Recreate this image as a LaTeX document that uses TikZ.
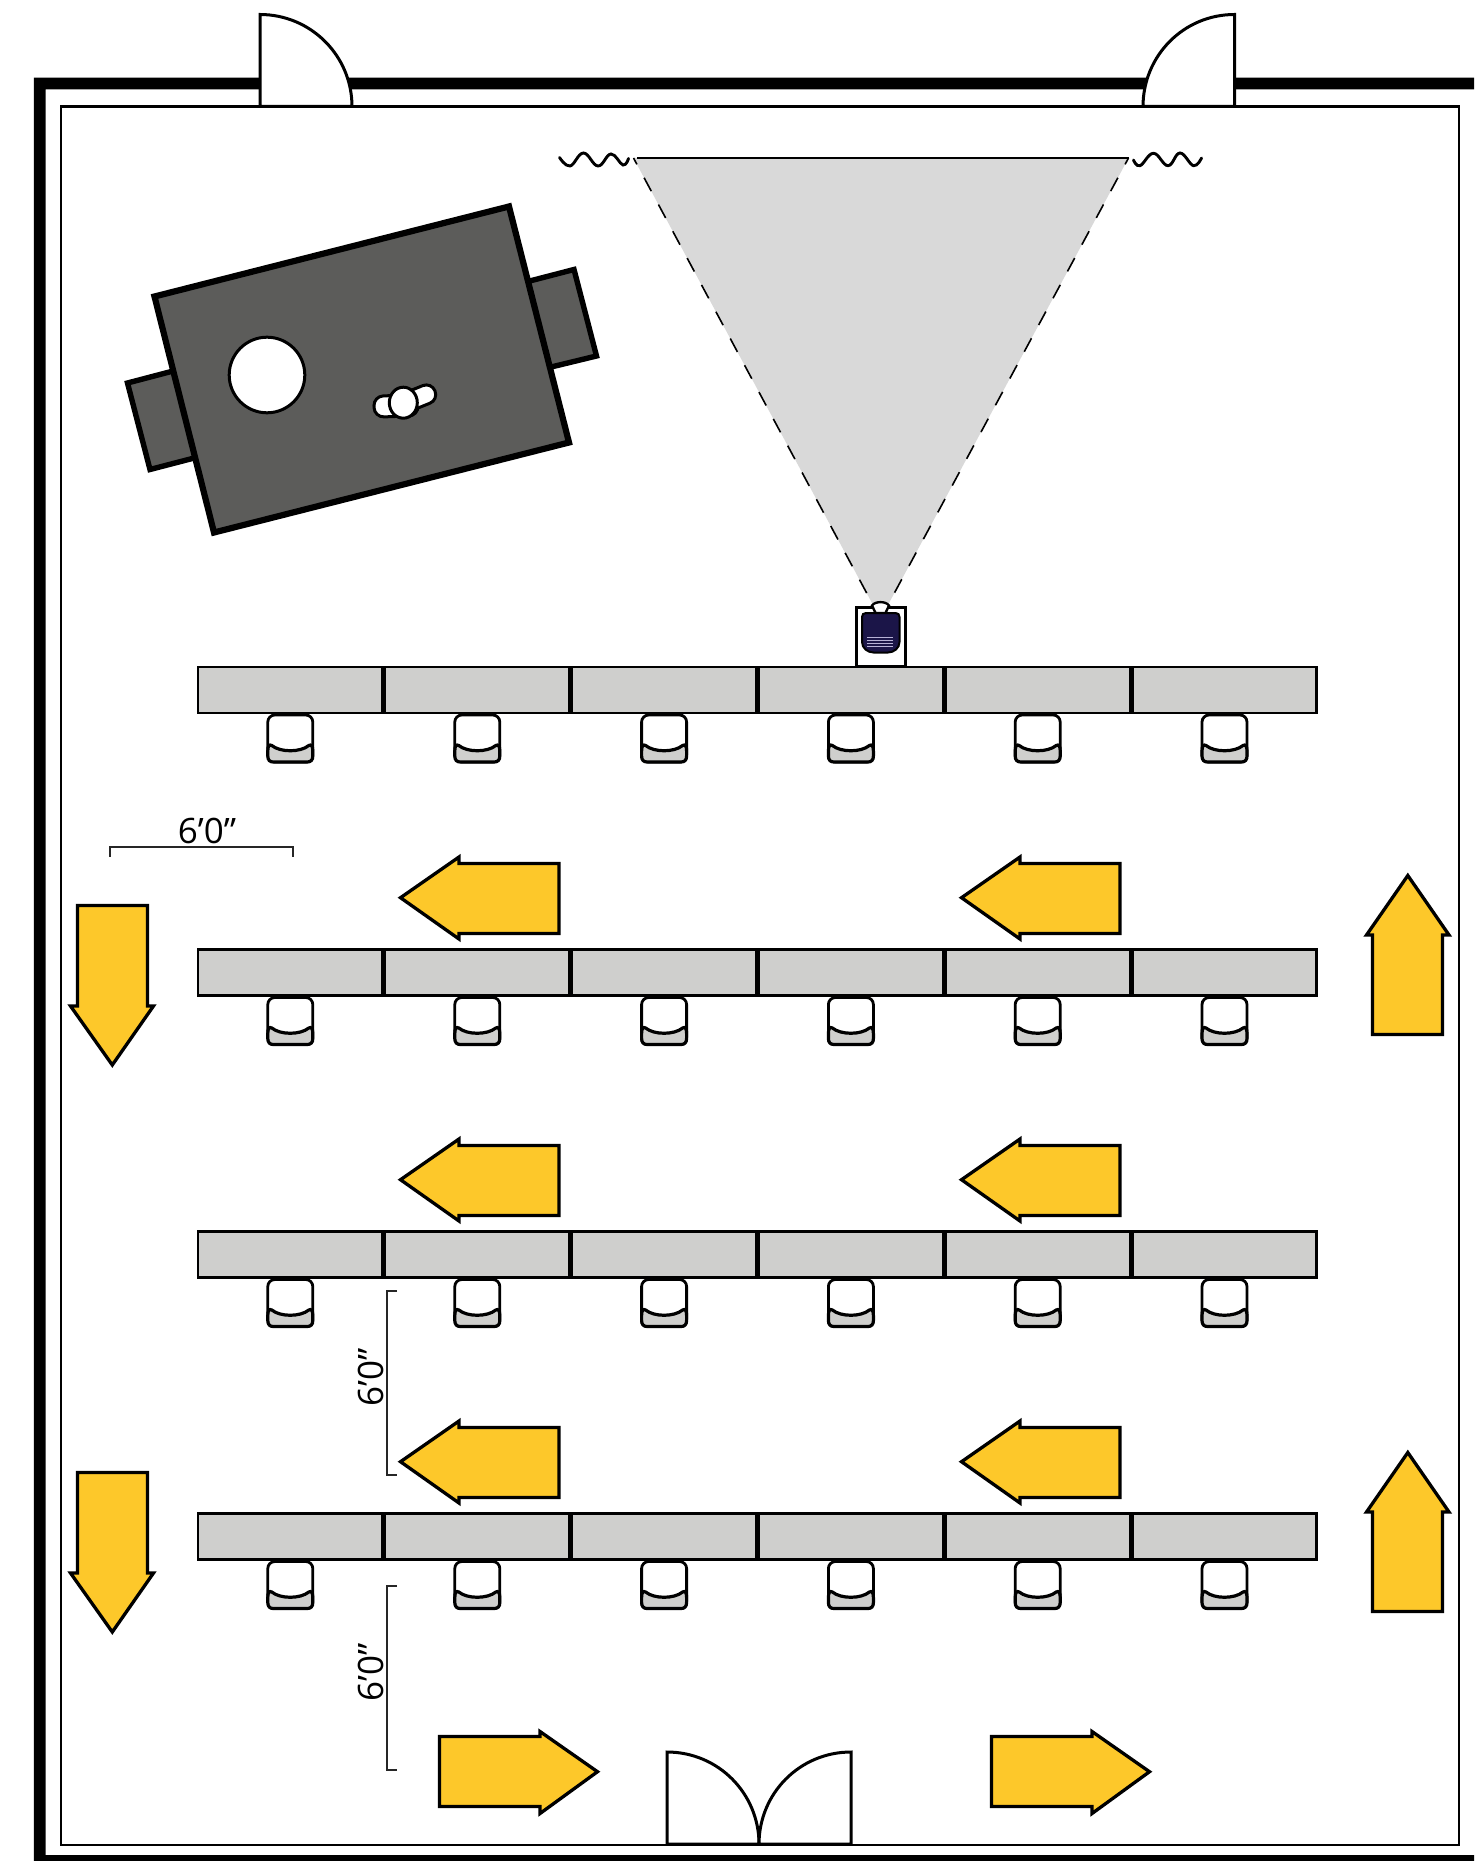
\documentclass[tikz,border=0pt]{standalone}
\usepackage{fontspec}
\setmainfont{Open Sans}
\definecolor{arrowyellow}{HTML}{FDC82A}
\definecolor{tablegray}{HTML}{CFCFCD}
\definecolor{screengray}{HTML}{D9D9D9}
\definecolor{podiumgray}{HTML}{5C5C5A}
\definecolor{projnavy}{HTML}{1B1548}
\definecolor{projline}{HTML}{B7B2D6}
\tikzset{
  wallband/.style={fill=black,draw=none},
  roomline/.style={draw=black,line width=1.25pt},
  doorleaf/.style={draw=black,fill=white,line width=1.5pt},
  tablebox/.style={draw=black,fill=tablegray,line width=1.4pt},
  chairback/.style={draw=black,fill=white,line width=1.4pt,rounded corners=3.5pt},
  chairseat/.style={draw=black,fill=tablegray,line width=1.6pt},
  flowarrow/.style={draw=black,fill=arrowyellow,line width=1.65pt,miter limit=10},
  podium/.style={draw=black,fill=podiumgray,line width=3.1pt},
  podiumwing/.style={draw=black,fill=podiumgray,line width=2.7pt},
  whitepart/.style={draw=black,fill=white,line width=1.5pt},
  dimline/.style={draw=black!85,line width=.65pt},
  dimlabel/.style={font=\fontsize{17.5}{20}\selectfont,inner sep=0pt,text=black},
  squiggle/.style={draw=black,line width=1.45pt,line cap=round},
  screenedge/.style={draw=black,line width=.8pt,dash pattern=on 7.6pt off 7.6pt,dash phase=4pt},
}
\begin{document}
\begin{tikzpicture}[x=0.5pt,y=-0.5pt]
\useasboundingbox (0,0) rectangle (1474,1861);
\fill[white] (0,0) rectangle (1474,1861);
% walls
\fill[wallband] (33.8,77.7) -- (1474,77.7) -- (1474,89.3) -- (45.5,89.3) -- (45.5,1855) -- (1474,1855) -- (1474,1861) -- (33.8,1861) -- cycle;
\draw[roomline] (61,106.5) rectangle (1459,1845);
% doors
\draw[doorleaf] (260,106.5) -- (260,14.5) .. controls (310.8,14.5) and (352,55.7) .. (352,106.5) -- cycle;
\draw[doorleaf] (1234.5,106.5) -- (1234.5,14.5) .. controls (1183.7,14.5) and (1143,55.7) .. (1143,106.5) -- cycle;
\draw[doorleaf] (667,1844) -- (667,1752) .. controls (718.4,1752) and (759,1793.6) .. (759,1844) -- cycle;
\draw[doorleaf] (851,1844) -- (851,1752) .. controls (799.6,1752) and (759,1793.6) .. (759,1844) -- cycle;
% screen beam
\fill[screengray] (633.5,158) -- (1128.5,158) -- (889,603) -- (872,603) -- cycle;
\draw[draw=black,line width=1.3pt] (637,158) -- (1128.5,158);
\draw[screenedge] (633.5,158) -- (872,603);
\draw[screenedge] (1128.5,158) -- (889,603);
\draw[squiggle] plot[smooth,tension=.7] coordinates {(559.5,157.5) (570,166) (583.5,153) (598,166) (611,154) (623,165) (628.5,158.5)};
\draw[squiggle] plot[smooth,tension=.7] coordinates {(1133.5,160) (1140,165.7) (1153.5,153.3) (1168,165.7) (1180,153) (1193.5,165.7) (1201.5,158)};
% podium
\draw[podiumwing] (127.5,383) -- (150,469.5) -- (200,456.5) -- (177,370) -- cycle;
\draw[podiumwing] (574,269.5) -- (596.5,356) -- (545,368.5) -- (522,283) -- cycle;
\draw[podium] (154.5,296.5) -- (509,206.5) -- (569,442.5) -- (214,532.5) -- cycle;
\draw[whitepart] (267,375) circle (37.8);
\draw[whitepart,rounded corners=4.8pt,rotate around={2:(395,406)}] (374,395.5) rectangle (418,416.5);
\draw[whitepart,rounded corners=4.6pt,rotate around={22:(415,399)}] (393,389.5) rectangle (436.5,408.5);
\draw[whitepart] (403.3,402.7) ellipse (14 and 15.5);
% projector
\draw[draw=black,fill=white,line width=1.5pt] (856,607.5) rectangle (905.5,666);
\draw[whitepart,line width=1.2pt] (875.5,613) -- (872,605.5) .. controls (875,601) and (886,601) .. (889,605.5) -- (885.5,613) -- cycle;
\draw[draw=black,fill=projnavy,line width=1pt] (866,613) -- (895.5,613) .. controls (898,613) and (899.5,614.5) .. (899.5,617) -- (899.5,642) .. controls (899.5,648) and (894,652.5) .. (888,652.5) -- (873.5,652.5) .. controls (867.5,652.5) and (862,648) .. (862,642) -- (862,617) .. controls (862,614.5) and (863.5,613) .. (866,613) -- cycle;
\foreach \yy in {637,640,643,646.5} \draw[draw=projline,line width=.5pt] (867,\yy) -- (893,\yy);
% tables and chairs
\foreach \rowy in {667,949.5,1231.5,1513.5}{
  \foreach \colx in {198,385,571.8,758.6,945.4,1132.2}{
    \draw[tablebox] (\colx,\rowy) rectangle +(184.6,46);
    \begin{scope}[shift={(\colx+92.3,\rowy+48)}]
      \draw[chairback] (-22.5,0) rectangle (22.5,47);
      \draw[chairseat] (-22.5,36) .. controls (-22.5,31) and (-21,29) .. (-18.5,30.5) .. controls (-10,37.5) and (10,37.5) .. (18.5,30.5) .. controls (21,29) and (22.5,31) .. (22.5,36) -- (22.5,41) .. controls (22.5,45) and (20.5,47) .. (17,47) -- (-17,47) .. controls (-20.5,47) and (-22.5,45) .. (-22.5,41) -- cycle;
    \end{scope}
  }
}
% left-pointing arrows
\foreach \rowy in {0,282,564}{
  \foreach \colx in {0,561}{
    \draw[flowarrow,shift={(\colx,\rowy)}] (400.5,897.7) -- (459,857) -- (459,863.5) -- (559,863.5) -- (559,933.5) -- (459,933.5) -- (459,939) -- cycle;
  }
}
% down arrows
\foreach \rowy in {0,567}{
  \draw[flowarrow,shift={(0,\rowy)}] (77.5,905.5) -- (147.5,905.5) -- (147.5,1006) -- (153.5,1006) -- (112.3,1065) -- (70.5,1006) -- (77.5,1006) -- cycle;
}
% up arrows
\foreach \rowy in {0,577}{
  \draw[flowarrow,shift={(0,\rowy)}] (1372.5,1034.5) -- (1442.5,1034.5) -- (1442.5,935) -- (1449,935) -- (1407.8,875.5) -- (1366.5,935) -- (1372.5,935) -- cycle;
}
% right arrows
\foreach \colx in {0,552}{
  \draw[flowarrow,shift={(\colx,0)}] (439.5,1736.5) -- (540,1736.5) -- (540,1731.5) -- (597.5,1771.7) -- (540,1813.5) -- (540,1806.5) -- (439.5,1806.5) -- cycle;
}
% dimensions
\coordinate (dimA1) at (110,856.5);
\coordinate (dimA2) at (293,856.5);
\draw[dimline] (dimA1) |- (293,847) -- (dimA2);
\node[dimlabel] (dimAtext) at (207,830.5) {6’0”};
\coordinate (dimB1) at (397,1291);
\coordinate (dimB2) at (397,1475);
\draw[dimline] (dimB1) -- (387,1291) -- (387,1475) -- (dimB2);
\node[dimlabel,rotate=90] (dimBtext) at (371,1377) {6’0”};
\coordinate (dimC1) at (397,1586);
\coordinate (dimC2) at (397,1770);
\draw[dimline] (dimC1) -- (387,1586) -- (387,1770) -- (dimC2);
\node[dimlabel,rotate=90] (dimCtext) at (371,1672) {6’0”};
\end{tikzpicture}
\end{document}
